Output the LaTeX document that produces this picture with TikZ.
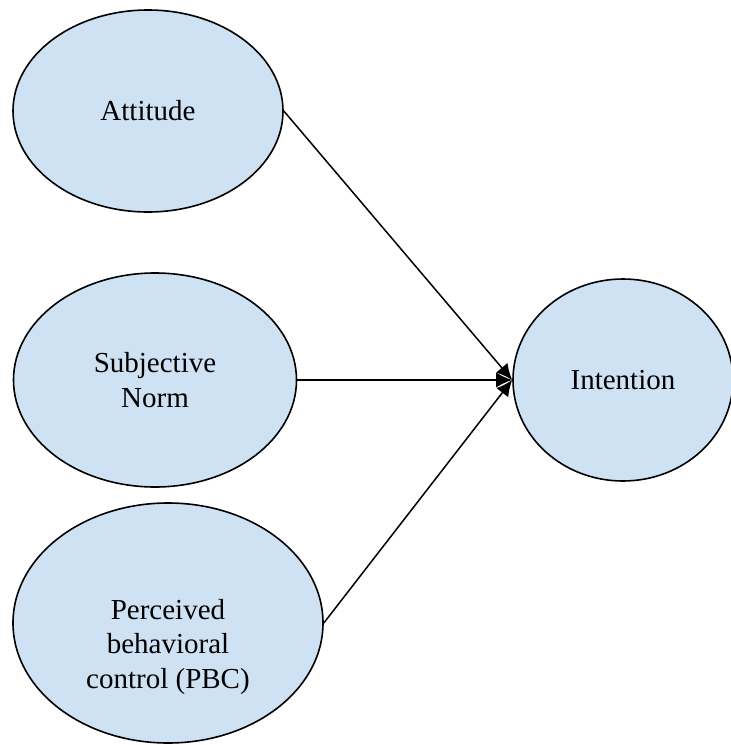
\documentclass[tikz,border=0pt]{standalone}
\usepackage{fontspec}
\setmainfont{Liberation Serif}
\usepackage{xcolor}
\usepackage{tikz}
\usetikzlibrary{shapes.geometric,arrows.meta}
\definecolor{ovalblue}{RGB}{207,226,243}
\tikzset{
  oval/.style={ellipse, draw=black, line width=1.6pt, fill=ovalblue,
    inner sep=0pt, align=center, font=\fontsize{29}{34.5}\selectfont},
  lbl/.style={inner sep=0pt, align=center, font=\fontsize{29}{34.5}\selectfont}
}

\begin{document}
\begin{tikzpicture}[x=1pt, y=-1pt, >={Latex[length=16pt,width=15pt]}, line width=1.5pt]
    \useasboundingbox (0,0) rectangle (731,745);

    % Factores
    \node[oval, minimum width=270pt, minimum height=202pt] (att) at (148,111) {Attitude};
    \node[oval, minimum width=283pt, minimum height=214pt] (sn) at (155,380) {Subjective\\Norm};
    \node[oval, minimum width=310pt, minimum height=240pt] (pbc) at (168,623) {};
    \node[lbl] (pbctxt) at (168,647) {Perceived\\behavioral\\control (PBC)};

    % Resultado
    \node[oval, minimum width=220pt, minimum height=202pt] (int) at (623,380) {Intention};

    % Flechas hacia la intencion
    \draw[->] (att.east) -- (int.west);
    \draw[->] (sn.east) -- (int.west);
    \draw[->] (pbc.east) -- (int.west);
\end{tikzpicture}
\end{document}
